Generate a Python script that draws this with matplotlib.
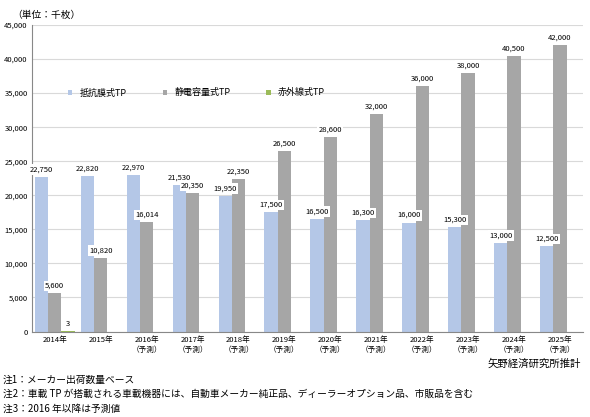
import matplotlib
matplotlib.use("Agg")
import matplotlib.pyplot as plt
import numpy as np

plt.rcParams['font.family'] = ['Noto Sans CJK JP', 'DejaVu Sans']

years = ["2014年", "2015年", "2016年\n（予測）", "2017年\n（予測）", "2018年\n（予測）", "2019年\n（予測）",
         "2020年\n（予測）", "2021年\n（予測）", "2022年\n（予測）", "2023年\n（予測）", "2024年\n（予測）", "2025年\n（予測）"]
resistive = [22750, 22820, 22970, 21530, 19950, 17500, 16500, 16300, 16000, 15300, 13000, 12500]
capacitive = [5600, 10820, 16014, 20350, 22350, 26500, 28600, 32000, 36000, 38000, 40500, 42000]
infrared = [3]
names = ["抵抗膜式TP", "静電容量式TP", "赤外線式TP"]
colors = ["#b4c7e7", "#a6a6a6", "#9bbb59"]

fig = plt.figure(figsize=(5.9, 4.17), dpi=100)
ax = fig.add_axes([0.054, 0.205, 0.934, 0.735])
x = np.arange(len(years))
w = 0.29
b1 = ax.bar(x - w, resistive, w, color=colors[0], label=names[0])
b2 = ax.bar(x, capacitive, w, color=colors[1], label=names[1])
b3 = ax.bar(x[:1] + w, infrared, w, color=colors[2], label=names[2])
box = dict(facecolor="white", edgecolor="none", pad=1)
for bars in (b1, b2, b3):
    for r in bars:
        v = r.get_height()
        ax.text(r.get_x() + r.get_width() / 2, v + 500, f"{v:,}", ha="center", va="bottom",
                fontsize=5.5, bbox=box, zorder=5)

ax.set_ylim(0, 45000)
ax.set_xlim(-0.5, len(years) - 0.5)
ax.set_yticks(range(0, 45001, 5000))
ax.set_yticklabels([f"{v:,}" for v in range(0, 45001, 5000)], fontsize=5.5)
ax.set_xticks(x)
ax.set_xticklabels(years, fontsize=5.5, linespacing=1.4)
ax.tick_params(length=0, pad=3)
ax.grid(axis="y", color="#d9d9d9", linewidth=0.8)
ax.set_axisbelow(True)
for s in ["top", "right"]:
    ax.spines[s].set_visible(False)
ax.spines["left"].set_color("#888888")
ax.spines["bottom"].set_color("#888888")
ax.legend(loc="upper left", bbox_to_anchor=(0.05, 0.82), ncol=3, frameon=False, fontsize=6.5,
          handlelength=0.5, handleheight=0.5, columnspacing=4)

fig.text(0.02, 0.965, "（単位：千枚）", fontsize=7, va="center")
fig.text(0.985, 0.128, "矢野経済研究所推計", fontsize=7.5, ha="right", va="center")
fig.text(0.005, 0.09, "注1：メーカー出荷数量ベース", fontsize=7, va="center")
fig.text(0.005, 0.055, "注2：車載 TP が搭載される車載機器には、自動車メーカー純正品、ディーラーオプション品、市販品を含む", fontsize=7, va="center")
fig.text(0.005, 0.02, "注3：2016 年以降は予測値", fontsize=7, va="center")
fig.savefig("out.png", dpi=100)
